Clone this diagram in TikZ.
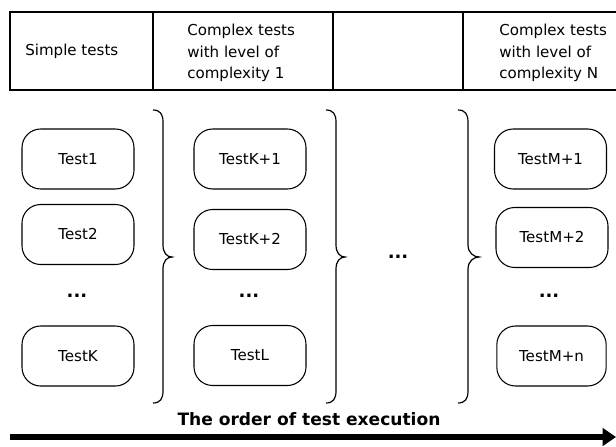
\documentclass[tikz,border=0pt]{standalone}
\usepackage{fontspec}
\setmainfont{DejaVu Sans}
\usetikzlibrary{arrows.meta}

\tikzset{
  testbox/.style={draw, line width=0.8pt, rounded corners=14pt,
    minimum width=84pt, minimum height=45pt, inner sep=0pt,
    font=\fontsize{11.3}{13}\selectfont},
  headtext/.style={anchor=west, align=left, inner sep=0pt,
    font=\fontsize{11.3}{15.9}\selectfont},
  dots/.style={inner sep=0pt, font=\fontsize{13.5}{15}\selectfont\bfseries},
  frame/.style={line width=0.8pt},
  bracket/.style={line width=0.9pt},
  order/.style={line width=4.2pt, -{Triangle[length=10pt,width=13pt]}}
}

% right curly brace: #1 = x of the stem, #2 = x of the tip
\newcommand{\drawbrace}[2]{%
  \draw[bracket] (#1-10,110) .. controls (#1-3,110) and (#1,114) .. (#1,122)
    -- (#1,245) .. controls (#1,253) and (#2-5,257) .. (#2,257)
    .. controls (#2-5,257) and (#1,261) .. (#1,269)
    -- (#1,391) .. controls (#1,399) and (#1-3,403) .. (#1-10,403);}

\begin{document}
\begin{tikzpicture}[x=0.75pt,y=-0.75pt]
\useasboundingbox (0,0) rectangle (616,446);

% header table
\draw[frame] (616,12) -- (10,12) -- (10,90) -- (616,90);
\draw[frame] (153,12) -- (153,90);
\draw[frame] (333,12) -- (333,90);
\draw[frame] (463,12) -- (463,90);
\node[headtext] (h1) at (25,51) {Simple tests};
\node[headtext] (h2) at (187,53) {Complex tests\\with level of\\complexity 1};
\node[headtext] (h3) at (499,53) {Complex tests\\with level of\\complexity N};

% simple tests
\node[testbox] (t1) at (78,159) {Test1};
\node[testbox] (t2) at (78,234.5) {Test2};
\node[dots] (d1) at (77,296) {...};
\node[testbox] (tk) at (78,356) {TestK};

% level 1
\node[testbox] (tk1) at (250,159) {TestK+1};
\node[testbox] (tk2) at (250,239.5) {TestK+2};
\node[dots] (d2) at (249,296) {...};
\node[testbox] (tl) at (250,355.5) {TestL};

% intermediate levels
\node[dots] (dm) at (398,257) {...};

% level N
\node[testbox] (tm1) at (550.5,159) {TestM+1};
\node[testbox] (tm2) at (552,237.5) {TestM+2};
\node[dots] (d3) at (549,296) {...};
\node[testbox, minimum width=82pt] (tmn) at (551.5,356) {TestM+n};

% grouping braces
\drawbrace{163}{172}
\drawbrace{336}{345}
\drawbrace{468}{479}

% execution order
\node[inner sep=0pt, font=\fontsize{12.8}{15}\selectfont\bfseries] (ord) at (309,419) {The order of test execution};
\coordinate (a0) at (10,437);
\coordinate (a1) at (616,437);
\draw[order] (a0) -- (a1);
\end{tikzpicture}
\end{document}
